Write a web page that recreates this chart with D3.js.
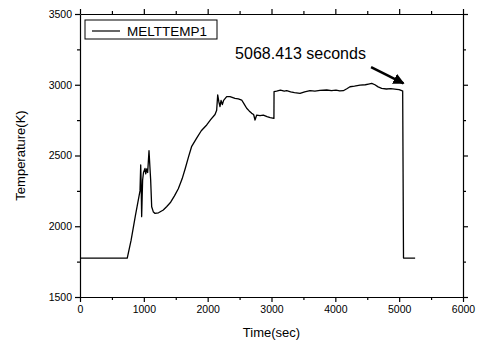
<!DOCTYPE html>
<html>
<head>
<meta charset="utf-8">
<script src="https://cdn.jsdelivr.net/npm/d3@7"></script>
<style>
  body { margin: 0; background: #fff; }
  svg text { font-family: "Liberation Sans", Arial, sans-serif; fill: #000; }
  .axis path, .axis line { stroke: #000; stroke-width: 1.2; }
</style>
</head>
<body>
<div id="chart"></div>
<script>
// Data
const seriesName = "MELTTEMP1";
const timeSec = [0, 740, 800, 870, 940, 951, 958, 966, 981, 995, 1018, 1030, 1045, 1060, 1081, 1095, 1107, 1123, 1150,
  1175, 1230, 1305, 1360, 1420, 1480, 1540, 1600, 1650, 1700, 1750, 1830, 1900, 1985, 2050, 2115, 2141, 2157, 2175,
  2193, 2210, 2230, 2250, 2298, 2350, 2428, 2480, 2533, 2570, 2611, 2650, 2690, 2720, 2742, 2768, 2820, 2872, 2930,
  2980, 3038, 3040, 3080, 3140, 3200, 3238, 3300, 3360, 3447, 3520, 3603, 3680, 3760, 3865, 3940, 4010, 4070, 4125,
  4180, 4230, 4300, 4387, 4470, 4520, 4570, 4620, 4670, 4726, 4800, 4870, 4961, 5000, 5040, 5055, 5068, 5100, 5180, 5250];
const meltTemp = [1775, 1775, 1900, 2080, 2250, 2433, 2300, 2068, 2327, 2380, 2409, 2370, 2405, 2380, 2534, 2420, 2327, 2138, 2100,
  2091, 2095, 2115, 2140, 2170, 2215, 2265, 2335, 2410, 2490, 2565, 2625, 2675, 2716, 2755, 2790, 2820, 2928, 2880,
  2845, 2890, 2860, 2890, 2916, 2916, 2904, 2900, 2892, 2865, 2834, 2815, 2798, 2790, 2751, 2786, 2782, 2786, 2775,
  2768, 2763, 2951, 2955, 2962, 2955, 2958, 2950, 2945, 2939, 2950, 2958, 2955, 2960, 2963, 2958, 2962, 2956, 2958,
  2972, 2986, 2990, 2998, 3000, 3005, 3010, 3000, 2985, 2975, 2970, 2972, 2968, 2966, 2958, 2956, 1775, 1775, 1775, 1775];

const xTicks = [0, 1000, 2000, 3000, 4000, 5000, 6000];
const xMinor = [500, 1500, 2500, 3500, 4500, 5500];
const yTicks = [1500, 2000, 2500, 3000, 3500];
const yMinor = [1750, 2250, 2750, 3250];

const annotationText = "5068.413 seconds";
const annotationPos = [2430, 3182];
const arrowFrom = [4560, 3125];
const arrowTo = [5068, 3010];

const width = 477, height = 342;
const margin = { top: 14, right: 14, bottom: 45, left: 80 };
const w = width - margin.left - margin.right;
const h = height - margin.top - margin.bottom;

const svg = d3.select("#chart").append("svg")
  .attr("width", width).attr("height", height);

svg.append("defs").append("marker")
  .attr("id", "arrow")
  .attr("viewBox", "0 0 10 10")
  .attr("refX", 9).attr("refY", 5)
  .attr("markerWidth", 4.5).attr("markerHeight", 4.5)
  .attr("markerUnits", "strokeWidth")
  .attr("orient", "auto")
  .append("path").attr("d", "M0,0 L10,5 L0,10 z").attr("fill", "#000");

const g = svg.append("g").attr("transform", `translate(${margin.left},${margin.top})`);

const x = d3.scaleLinear().domain([0, 6000]).range([0, w]);
const y = d3.scaleLinear().domain([1500, 3500]).range([h, 0]);

// minor ticks
g.append("g").attr("class", "axis").attr("transform", `translate(0,${h})`)
  .call(d3.axisBottom(x).tickValues(xMinor).tickSize(3).tickSizeOuter(0).tickFormat(""))
  .select(".domain").remove();
g.append("g").attr("class", "axis")
  .call(d3.axisTop(x).tickValues(xMinor).tickSize(3).tickSizeOuter(0).tickFormat(""))
  .select(".domain").remove();
g.append("g").attr("class", "axis")
  .call(d3.axisLeft(y).tickValues(yMinor).tickSize(3).tickSizeOuter(0).tickFormat(""))
  .select(".domain").remove();
g.append("g").attr("class", "axis").attr("transform", `translate(${w},0)`)
  .call(d3.axisRight(y).tickValues(yMinor).tickSize(3).tickSizeOuter(0).tickFormat(""))
  .select(".domain").remove();

// major ticks
const xAxis = g.append("g").attr("class", "axis").attr("transform", `translate(0,${h})`)
  .call(d3.axisBottom(x).tickValues(xTicks).tickSize(5).tickSizeOuter(0).tickPadding(4).tickFormat(d3.format("d")));
xAxis.selectAll("text").style("font-size", "10.5px");
g.append("g").attr("class", "axis")
  .call(d3.axisTop(x).tickValues(xTicks).tickSize(5).tickSizeOuter(0).tickFormat(""));
const yAxis = g.append("g").attr("class", "axis")
  .call(d3.axisLeft(y).tickValues(yTicks).tickSize(5).tickSizeOuter(0).tickPadding(3).tickFormat(d3.format("d")));
yAxis.selectAll("text").style("font-size", "10.5px");
g.append("g").attr("class", "axis").attr("transform", `translate(${w},0)`)
  .call(d3.axisRight(y).tickValues(yTicks).tickSize(5).tickSizeOuter(0).tickFormat(""));

// data line
const data = timeSec.map((t, i) => ({ t: t, v: meltTemp[i] }));
const line = d3.line().x(d => x(d.t)).y(d => y(d.v));
g.append("path")
  .datum(data)
  .attr("fill", "none")
  .attr("stroke", "#000")
  .attr("stroke-width", 1.3)
  .attr("stroke-linejoin", "round")
  .attr("d", line);

// axis titles
svg.append("text")
  .attr("x", margin.left + w / 2).attr("y", 337)
  .attr("text-anchor", "middle")
  .style("font-size", "13px")
  .text("Time(sec)");
svg.append("text")
  .attr("transform", `translate(25,${margin.top + h / 2}) rotate(-90)`)
  .attr("text-anchor", "middle")
  .style("font-size", "13px")
  .text("Temperature(K)");

// legend
const legend = g.append("g").attr("transform", "translate(5,6)");
legend.append("rect")
  .attr("width", 132).attr("height", 19)
  .attr("fill", "#fff").attr("stroke", "#000").attr("stroke-width", 1);
legend.append("line")
  .attr("x1", 7).attr("x2", 35).attr("y1", 11).attr("y2", 11)
  .attr("stroke", "#000").attr("stroke-width", 1.2);
legend.append("text")
  .attr("x", 42).attr("y", 15.5)
  .style("font-size", "13.5px")
  .text(seriesName);

// annotation
g.append("text")
  .attr("x", x(annotationPos[0])).attr("y", y(annotationPos[1]))
  .style("font-size", "16px")
  .text(annotationText);
g.append("line")
  .attr("x1", x(arrowFrom[0])).attr("y1", y(arrowFrom[1]))
  .attr("x2", x(arrowTo[0])).attr("y2", y(arrowTo[1]))
  .attr("stroke", "#000").attr("stroke-width", 2.5)
  .attr("marker-end", "url(#arrow)");
</script>
</body>
</html>
